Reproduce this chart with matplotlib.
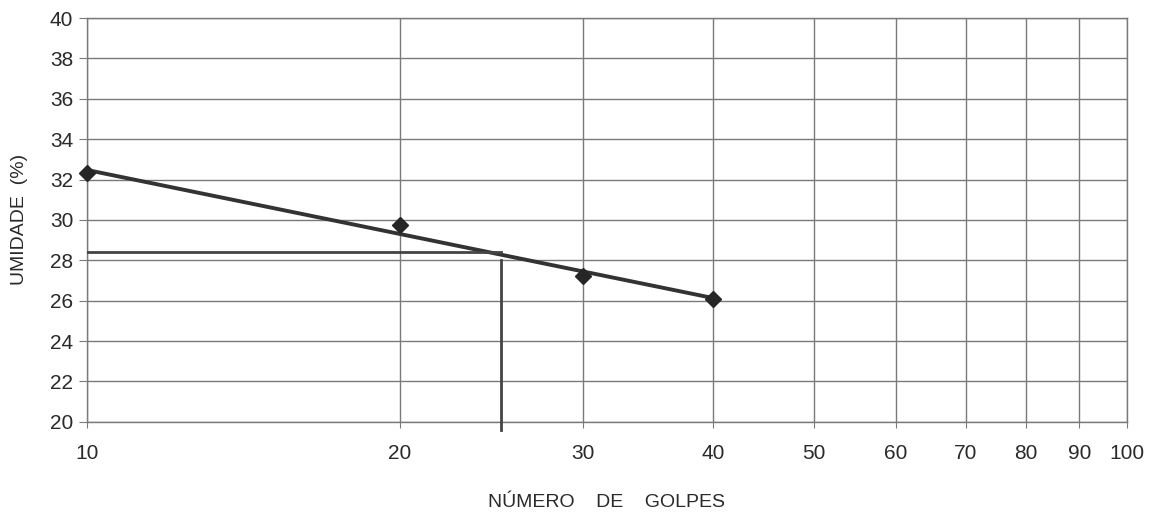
import numpy as np
import matplotlib
matplotlib.use("Agg")
import matplotlib.pyplot as plt
from matplotlib.ticker import FixedLocator, NullLocator, FixedFormatter

# ensaio de limite de liquidez
golpes = [10, 20, 30, 40]
umidade = [32.3, 29.75, 27.2, 26.1]
golpes_ll = 25
umidade_ll = 28.4

xticks = [10, 20, 30, 40, 50, 60, 70, 80, 90, 100]
yticks = list(range(20, 41, 2))

plt.rcParams['font.family'] = ['Liberation Sans', 'DejaVu Sans']

fig = plt.figure(figsize=(11.51, 5.15), dpi=100)
ax = fig.add_axes([0.0756, 0.181, 0.9034, 0.784])

ax.set_xscale('log')
ax.set_xlim(10, 100)
ax.set_ylim(20, 40)

# reta de tendencia (ajuste log)
coef = np.polyfit(np.log10(golpes), umidade, 1)
xs = np.array([golpes[0], golpes[-1]])
ax.plot(xs, np.polyval(coef, np.log10(xs)), color='#333333', lw=2.8, zorder=3)
ax.plot(golpes, umidade, linestyle='none', marker='D', ms=8, color='#262626',
        zorder=4, clip_on=False)

# leitura para 25 golpes
ax.plot([10, golpes_ll], [umidade_ll, umidade_ll], color='#444444', lw=2, zorder=3)
ax.plot([golpes_ll, golpes_ll], [19.6, 28.0], color='#444444', lw=2, zorder=3, clip_on=False)

ax.xaxis.set_major_locator(FixedLocator(xticks))
ax.xaxis.set_major_formatter(FixedFormatter([str(t) for t in xticks]))
ax.xaxis.set_minor_locator(NullLocator())
ax.set_yticks(yticks)

ax.grid(True, which='major', color='#7a7a7a', lw=1.0)
for s in ax.spines.values():
    s.set_color('#7a7a7a')
    s.set_linewidth(1.0)

ax.tick_params(axis='y', length=6, color='#7a7a7a', labelsize=15, pad=4, labelcolor='#2a2a2a')
ax.tick_params(axis='x', length=4, color='#7a7a7a', labelsize=15, pad=12, labelcolor='#2a2a2a')

ax.set_xlabel('NÚMERO    DE    GOLPES', fontsize=14, color='#2a2a2a', labelpad=22)
ax.set_ylabel('UMIDADE  (%)', fontsize=14, color='#2a2a2a', labelpad=16)

fig.savefig('out.png', dpi=100, facecolor='white')
